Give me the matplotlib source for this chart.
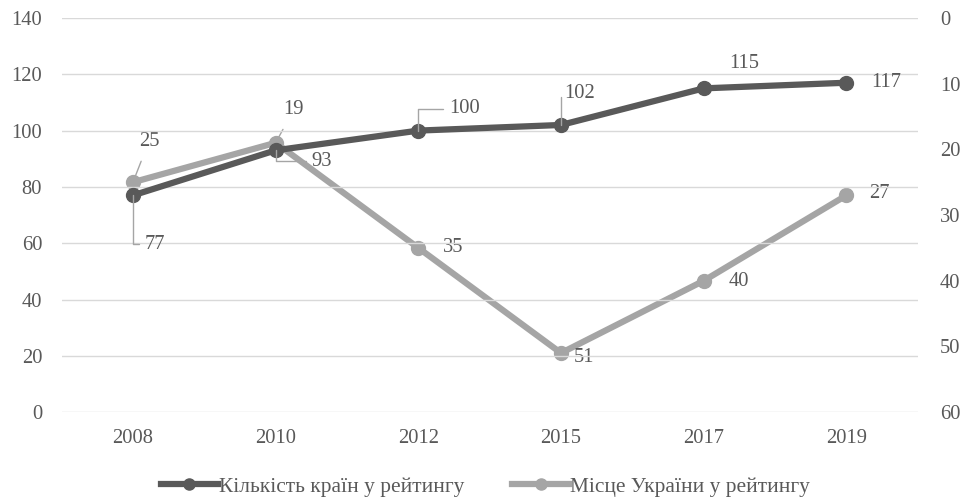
import matplotlib
matplotlib.use("Agg")
import matplotlib.pyplot as plt
from matplotlib.lines import Line2D

plt.rcParams['font.family'] = ['Liberation Serif', 'DejaVu Serif']

years = ["2008", "2010", "2012", "2015", "2017", "2019"]
countries = [77, 93, 100, 102, 115, 117]
ukraine_rank = [25, 19, 35, 51, 40, 27]

dark = '#595959'
light = '#A5A5A5'
grid = '#D9D9D9'
txt = '#595959'
FS = 14.8

fig = plt.figure(figsize=(9.63, 4.99), dpi=100)
ax = fig.add_axes([0.064, 0.174, 0.889, 0.79])
ax2 = ax.twinx()

x = list(range(len(years)))
ax.plot(x, countries, color=dark, lw=4.5, marker='o', ms=10, zorder=3,
        solid_capstyle='round')
ax2.plot(x, ukraine_rank, color=light, lw=4.5, marker='o', ms=10, zorder=3,
         solid_capstyle='round')

ax.set_xlim(-0.5, len(years) - 0.5)
ax.set_ylim(0, 140)
ax.set_yticks(range(0, 141, 20))
ax2.set_ylim(60, 0)
ax2.set_yticks(range(0, 61, 10))
ax.set_xticks(x)
ax.set_xticklabels(years)

for a in (ax, ax2):
    for s in a.spines.values():
        s.set_visible(False)
    a.tick_params(length=0, labelsize=FS, labelcolor=txt)
ax.tick_params(axis='x', pad=12)
ax.tick_params(axis='y', pad=14)
ax2.tick_params(axis='y', pad=16)
ax.grid(axis='y', color=grid, lw=1)
ax.set_axisbelow(True)
ax.set_zorder(ax2.get_zorder() + 1)
ax.patch.set_visible(False)

# dark labels: (dx, dy) offsets in pixels, leader?
dark_off = [(22, -49, True), (46, -11, True), (46, 22, True), (19, 31, True), (41, 25, False), (40, 0, False)]
for xi, v, (dx, dy, lead) in zip(x, countries, dark_off):
    kw = {}
    if lead:
        kw['arrowprops'] = dict(arrowstyle='-', color=light, lw=1, shrinkA=2, shrinkB=0,
                                connectionstyle='angle,angleA=0,angleB=90,rad=0')
    ax.annotate(str(v), (xi, v), xytext=(dx, dy), textcoords='offset pixels',
                ha='center', va='center', fontsize=FS, color=txt, **kw)

light_off = [(16, 41, True), (18, 33, True), (35, 0, False), (23, -4, False), (35, -1, False), (33, 2, False)]
for xi, v, (dx, dy, lead) in zip(x, ukraine_rank, light_off):
    kw = {}
    if lead:
        kw['arrowprops'] = dict(arrowstyle='-', color=light, lw=1, shrinkA=6, shrinkB=0)
    ax2.annotate(str(v), (xi, v), xytext=(dx, dy), textcoords='offset pixels',
                 ha='center', va='center', fontsize=FS, color=txt, **kw)

handles = [Line2D([], [], color=dark, lw=4.5, marker='o', ms=8),
           Line2D([], [], color=light, lw=4.5, marker='o', ms=8)]
labels = ["Кількість країн у рейтингу", "Місце України у рейтингу"]
fig.legend(handles, labels, loc='center', bbox_to_anchor=(0.504, 0.025), ncol=2,
           frameon=False, fontsize=15.4, labelcolor=txt, handlelength=2.66,
           handletextpad=0.05, columnspacing=2.25)

fig.savefig('out.png', dpi=100)
